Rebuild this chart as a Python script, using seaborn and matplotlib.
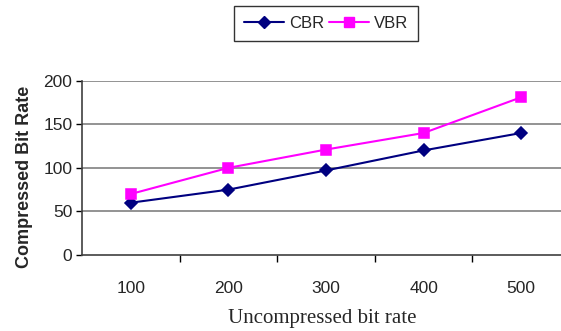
import matplotlib
matplotlib.use("Agg")
import matplotlib.pyplot as plt
import seaborn as sns
import pandas as pd

categories = ["100", "200", "300", "400", "500"]
cbr = [60, 75, 97, 120, 140]
vbr = [70, 100, 121, 140, 181]
series_names = ["CBR", "VBR"]
y_ticks = [0, 50, 100, 150, 200]

df = pd.DataFrame({
    "rate": categories * 2,
    "value": cbr + vbr,
    "series": [series_names[0]] * len(cbr) + [series_names[1]] * len(vbr),
})

sns.set_style("white")
plt.rcParams["font.family"] = ["Liberation Sans", "DejaVu Sans"]

fig = plt.figure(figsize=(5.61, 3.31), dpi=100)
ax = fig.add_axes([82 / 561, 76 / 331, 488 / 561, 174.3 / 331])

sns.pointplot(data=df, x="rate", y="value", hue="series", order=categories,
              palette={"CBR": "#000080", "VBR": "#FF00FF"},
              markers=["D", "s"], linestyles=["-", "-"], ax=ax,
              markersize=6.5, linewidth=1.5, legend=False)

ax.set_xlim(-0.5, len(categories) - 0.5)
ax.set_ylim(0, 200)
ax.set_yticks(y_ticks)
ax.set_yticklabels([str(v) for v in y_ticks], fontsize=12.5)
ax.set_xticks(range(len(categories)))
ax.set_xticklabels(categories, fontsize=12.5)
ax.tick_params(axis="x", which="major", length=0, pad=19)
ax.set_xticks([i + 0.5 for i in range(len(categories) - 1)], minor=True)
ax.tick_params(axis="x", which="minor", length=5, width=1, color="#000000", direction="out")
ax.tick_params(axis="y", length=4, width=1, color="#000000", direction="out", left=True, pad=3)
ax.xaxis.set_tick_params(bottom=True, which="both")

for y in y_ticks[1:]:
    ax.axhline(y, color="#808080", linewidth=1.2, zorder=0)

for s in ["top", "right"]:
    ax.spines[s].set_visible(False)
for s in ["left", "bottom"]:
    ax.spines[s].set_color("#404040")
    ax.spines[s].set_linewidth(1.2)

ax.set_xlabel("")
ax.set_ylabel("")

fig.text(322 / 561, 1 - 318 / 331, "Uncompressed bit rate", ha="center", va="center",
         fontsize=15, family=["Liberation Serif", "DejaVu Serif"])
fig.text(25 / 561, 1 - 177 / 331, "Compressed Bit Rate", ha="center", va="center",
         rotation=90, fontsize=13, fontweight="bold")

from matplotlib.lines import Line2D
handles = [
    Line2D([], [], color="#000080", marker="D", markersize=6.5, linewidth=1.5),
    Line2D([], [], color="#FF00FF", marker="s", markersize=6.5, linewidth=1.5),
]
leg = fig.legend(handles, series_names, loc="center", bbox_to_anchor=(326 / 561, 1 - 23 / 331),
                 ncol=2, frameon=True, fancybox=False, fontsize=12, handlelength=2.4,
                 columnspacing=0.3, handletextpad=0.3, borderpad=0.6, edgecolor="#000000")
leg.get_frame().set_linewidth(1.0)

fig.savefig("out.png", dpi=100)
